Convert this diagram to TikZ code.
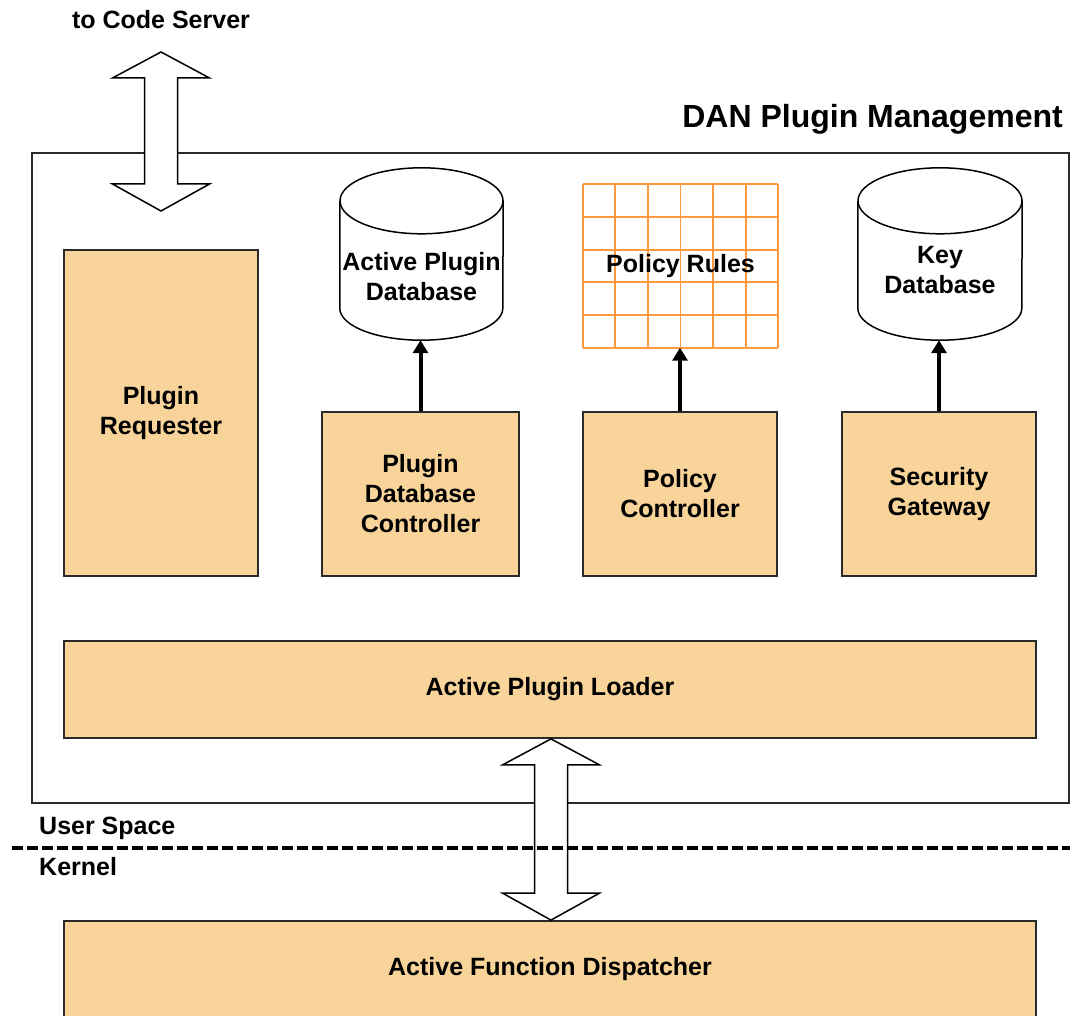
\documentclass[tikz,border=0pt]{standalone}
\usepackage{fontspec}
\setmainfont{Liberation Sans}
\usetikzlibrary{calc,arrows.meta}

\definecolor{boxfill}{HTML}{F8D49A}
\definecolor{gridorange}{HTML}{FF9A3C}
\definecolor{edge}{HTML}{2A2A2A}

% white double-headed block arrow between two tip points (vertical)
\newcommand{\blockarrow}[2]{%
  \draw[blockarrow] (#1) -- ++(48.5,26) -- ++(-32,0) -- ($(#2)+(16.5,-27)$)
    -- ++(32,0) -- (#2) -- ++(-48.5,-27) -- ++(32,0) -- ($(#1)+(-16.5,26)$)
    -- ++(-32,0) -- cycle;}

\begin{document}
\begin{tikzpicture}[x=1pt,y=-1pt,
  every node/.style={font=\bfseries\fontsize{25}{30}\selectfont, align=center, inner sep=0pt},
  module/.style={draw=edge, line width=1.8pt, fill=boxfill},
  store/.style={draw=black, line width=1.5pt},
  gridline/.style={draw=gridorange, line width=1.8pt},
  flow/.style={line width=4pt, -{Triangle[width=15pt,length=13pt]}},
  blockarrow/.style={draw=black, line width=1.5pt, fill=white, line join=miter},
  title/.style={font=\bfseries\fontsize{32}{38}\selectfont},
  splitline/.style={line width=3.5pt, dash pattern=on 11pt off 4pt},
]
\clip (0,0) rectangle (1070,1016);
\fill[white] (0,0) rectangle (1070,1016);

% management frame
\draw[line width=1.8pt, draw=edge] (32,153) rectangle (1069,803);
\node[title, anchor=east] (ttl) at (1063,119) {DAN Plugin Management};

% link to the code server
\node (cs) at (161,20) {to Code Server};
\coordinate (cs-top) at (161,52);
\coordinate (cs-bot) at (161,211);
\blockarrow{cs-top}{cs-bot}

% modules
\node[module, minimum width=194, minimum height=326] (req) at (161,413) {Plugin\\Requester};
\node[module, minimum width=197, minimum height=164] (pdbc) at (420.5,494) {Plugin\\Database\\Controller};
\node[module, minimum width=194, minimum height=164] (pc) at (680,494) {Policy\\Controller};
\node[module, minimum width=194, minimum height=164] (sg) at (939,494) {Security\\Gateway};
\node[module, minimum width=972, minimum height=97] (loader) at (550,689.5) {Active Plugin Loader};
\node[module, minimum width=972, minimum height=96] (disp) at (550,969) {Active Function Dispatcher};

% active plugin database (cylinder)
\node[minimum width=163, minimum height=172] (apdb) at (421.5,254) {};
\draw[store] ($(apdb.north west)+(0,33)$) -- ($(apdb.south west)+(0,-32)$)
  arc[start angle=180, end angle=360, x radius=81.5pt, y radius=32pt]
  -- ($(apdb.north east)+(0,33)$);
\draw[store] ($(apdb.north)+(0,33)$) ellipse[x radius=81.5pt, y radius=33pt];
\node (apdb-label) at (421.5,277) {Active Plugin\\Database};

% key database (cylinder)
\node[minimum width=164, minimum height=172] (keydb) at (940,254) {};
\draw[store] ($(keydb.north west)+(0,33)$) -- ($(keydb.south west)+(0,-32)$)
  arc[start angle=180, end angle=360, x radius=82pt, y radius=32pt]
  -- ($(keydb.north east)+(0,33)$);
\draw[store] ($(keydb.north)+(0,33)$) ellipse[x radius=82pt, y radius=33pt];
\node (keydb-label) at (940,270) {Key\\Database};

% policy rules table
\node[minimum width=195, minimum height=163] (rules) at (680.5,266) {};
\foreach \i in {0,...,6}
  \draw[gridline] ($(rules.north west)!\i/6!(rules.north east)$) -- ($(rules.south west)!\i/6!(rules.south east)$);
\foreach \j in {0,...,5}
  \draw[gridline] ($(rules.north west)!\j/5!(rules.south west)$) -- ($(rules.north east)!\j/5!(rules.south east)$);
\node (rules-label) at (rules.center) {Policy Rules};

% controller links
\draw[flow] (pdbc.north) -- (pdbc.north |- apdb.south);
\draw[flow] (pc.north) -- (pc.north |- rules.south);
\draw[flow] (sg.north) -- (sg.north |- keydb.south);

% user/kernel boundary
\coordinate (bus) at (551,0);
\blockarrow{loader.south -| bus}{disp.north -| bus}
\coordinate (split-l) at (12,848);
\coordinate (split-r) at (1070,848);
\draw[splitline] (split-l) -- (split-r);
\node[anchor=west] (us) at (39,828) {User Space};
\node[anchor=west] (kn) at (39,867) {Kernel};
\end{tikzpicture}
\end{document}
